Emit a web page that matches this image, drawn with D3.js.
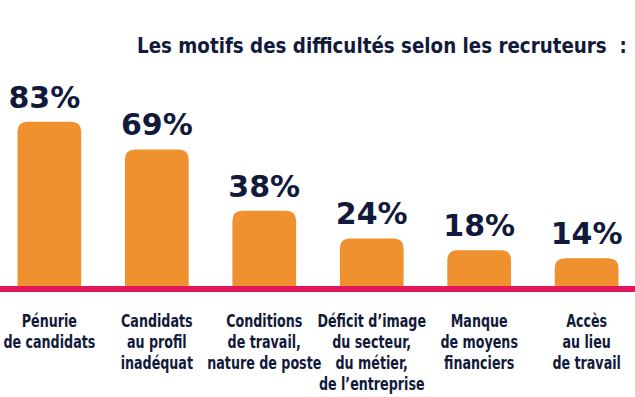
<!DOCTYPE html>
<html>
<head>
<meta charset="utf-8">
<script src="https://cdn.jsdelivr.net/npm/d3@7"></script>
<style>
  html, body { margin: 0; padding: 0; background: #ffffff; }
  svg { display: block; }
  text { font-family: "DejaVu Sans Condensed", "DejaVu Sans", sans-serif; font-weight: bold; fill: #111a3a; }
  text.val { font-family: "DejaVu Sans", sans-serif; }
</style>
</head>
<body>
<svg id="chart" width="635" height="397"></svg>
<script>
const title = "Les motifs des difficultés selon les recruteurs\u00a0\u00a0:";
const categories = [
  ["Pénurie", "de candidats"],
  ["Candidats", "au profil", "inadéquat"],
  ["Conditions", "de travail,", "nature de poste"],
  ["Déficit d\u2019image", "du secteur,", "du métier,", "de l\u2019entreprise"],
  ["Manque", "de moyens", "financiers"],
  ["Accès", "au lieu", "de travail"]
];
const values = [83, 69, 38, 24, 18, 14];
const valueLabels = ["83%", "69%", "38%", "24%", "18%", "14%"];

const W = 635, H = 397;
const baseY = 286;
const svg = d3.select("#chart");

const x = d3.scaleBand()
  .domain(d3.range(values.length))
  .range([-4, 640])
  .paddingInner(0.407)
  .paddingOuter(0.2);

const y = d3.scaleLinear().domain([0, 100]).range([baseY, baseY - 198]);

// title: 21px, condensed horizontally to the reference width
const t = svg.append("text")
  .attr("x", 0).attr("y", 0)
  .style("font-size", "21px")
  .text(title);
const tl = t.node().getComputedTextLength();
t.attr("transform", `translate(137,53) scale(${(490 / tl).toFixed(4)},1)`);

// bars (rounded top)
const r = 10;
function barPath(x0, w, top, bottom) {
  const rr = Math.min(r, (bottom - top));
  return `M${x0},${bottom}V${top + rr}Q${x0},${top} ${x0 + rr},${top}H${x0 + w - rr}Q${x0 + w},${top} ${x0 + w},${top + rr}V${bottom}Z`;
}
svg.append("g").selectAll("path").data(values).join("path")
  .attr("d", (d, i) => barPath(x(i), x.bandwidth(), y(d), baseY + 1))
  .attr("fill", "#F0912F");

// baseline
svg.append("rect")
  .attr("x", 0).attr("y", baseY).attr("width", W).attr("height", 6)
  .attr("fill", "#E2185A");

// value labels
svg.append("g").selectAll("text").data(values).join("text")
  .attr("class", "val")
  .attr("x", (d, i) => x(i) + x.bandwidth() / 2 - (i === 0 ? 5 : 0))
  .attr("y", d => y(d) - 14)
  .attr("text-anchor", "middle")
  .style("font-size", "30px")
  .text((d, i) => valueLabels[i]);

// category labels (horizontally condensed)
const sx = 0.84;
const cg = svg.append("g").selectAll("text").data(categories).join("text")
  .attr("text-anchor", "middle")
  .style("font-size", "16.8px")
  .attr("transform", (d, i) => `translate(${x(i) + x.bandwidth() / 2},0) scale(${sx},1)`);
cg.each(function(lines, i) {
  const sel = d3.select(this);
  lines.forEach((ln, j) => {
    sel.append("tspan")
      .attr("x", 0)
      .attr("y", 327 + j * 21)
      .text(ln);
  });
});
</script>
</body>
</html>
